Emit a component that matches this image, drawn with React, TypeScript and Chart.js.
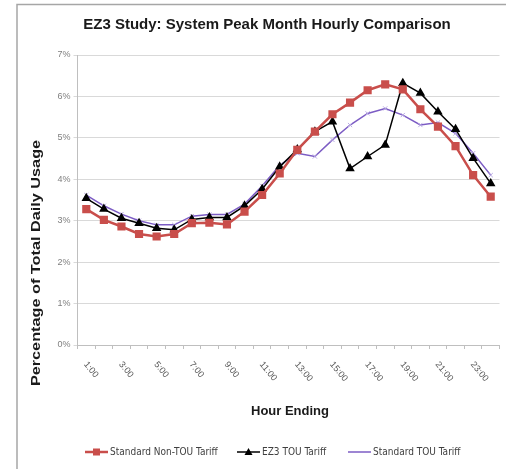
import React, { useEffect, useRef } from "react";
import { Chart, registerables } from "chart.js";

Chart.register(...registerables);

const hours = ["1:00","2:00","3:00","4:00","5:00","6:00","7:00","8:00","9:00","10:00","11:00","12:00","13:00","14:00","15:00","16:00","17:00","18:00","19:00","20:00","21:00","22:00","23:00","24:00"];
const yTicks = [0, 1, 2, 3, 4, 5, 6, 7];

const standardNonTou = [3.28,3.02,2.86,2.68,2.62,2.68,2.94,2.95,2.91,3.22,3.62,4.14,4.71,5.15,5.57,5.85,6.15,6.29,6.17,5.69,5.27,4.80,4.10,3.58];
const ez3Tou = [3.54,3.28,3.06,2.94,2.82,2.78,3.03,3.08,3.08,3.36,3.76,4.30,4.72,5.15,5.39,4.26,4.55,4.83,6.32,6.08,5.63,5.21,4.51,3.90];
const standardTou = [3.62,3.36,3.16,3.00,2.90,2.90,3.11,3.15,3.15,3.40,3.84,4.34,4.63,4.55,4.95,5.31,5.59,5.71,5.55,5.31,5.37,5.11,4.63,4.10];

const seriesNames = ["Standard Non-TOU Tariff", "EZ3 TOU Tariff", "Standard TOU Tariff"];
const seriesColors = ["#c94e4b", "#000000", "#7c5cc4"];

const W = 506;
const H = 469;

const decorPlugin = {
  id: "decor",
  afterDraw(chart: any) {
    const ctx = chart.ctx as CanvasRenderingContext2D;
    const xs = chart.scales.x;
    ctx.save();
    // frame
    ctx.strokeStyle = "#a6a6a6";
    ctx.lineWidth = 1.5;
    ctx.beginPath();
    ctx.moveTo(17, H);
    ctx.lineTo(17, 4.5);
    ctx.lineTo(W, 4.5);
    ctx.stroke();

    // title
    ctx.fillStyle = "#1a1a1a";
    ctx.font = "bold 15px 'Liberation Sans', Arial, sans-serif";
    ctx.textAlign = "center";
    ctx.textBaseline = "middle";
    ctx.fillText("EZ3 Study: System Peak Month Hourly Comparison", 267, 25);

    // y title
    ctx.save();
    ctx.translate(36, 263);
    ctx.rotate(-Math.PI / 2);
    ctx.scale(1.25, 1);
    ctx.font = "bold 13px 'Liberation Sans', Arial, sans-serif";
    ctx.fillText("Percentage of Total Daily Usage", 0, 0);
    ctx.restore();

    // x title
    ctx.font = "bold 13px 'Liberation Sans', Arial, sans-serif";
    ctx.fillText("Hour Ending", 290, 411);

    // rotated x tick labels
    ctx.fillStyle = "#595959";
    ctx.font = "9px 'Liberation Sans', Arial, sans-serif";
    ctx.textAlign = "left";
    ctx.textBaseline = "middle";
    for (let i = 0; i < hours.length; i += 2) {
      const x = xs.getPixelForValue(i);
      ctx.save();
      ctx.translate(x - 1, 363);
      ctx.rotate((50 * Math.PI) / 180);
      ctx.fillText(hours[i], 0, 0);
      ctx.restore();
    }

    // legend
    const ly = 452;
    const items = [
      { x: 85, style: "rect" },
      { x: 237, style: "triangle" },
      { x: 348, style: "cross" },
    ];
    ctx.font = "10px 'Liberation Sans Narrow', 'DejaVu Sans Condensed', Arial, sans-serif";
    items.forEach((it, k) => {
      ctx.strokeStyle = seriesColors[k];
      ctx.fillStyle = seriesColors[k];
      ctx.lineWidth = k === 0 ? 2.5 : 1.5;
      ctx.beginPath();
      ctx.moveTo(it.x, ly);
      ctx.lineTo(it.x + 23, ly);
      ctx.stroke();
      const cx = it.x + 11.5;
      if (it.style === "rect") {
        ctx.fillRect(cx - 3.5, ly - 3.5, 7, 7);
      } else if (it.style === "triangle") {
        ctx.beginPath();
        ctx.moveTo(cx, ly - 4);
        ctx.lineTo(cx + 4, ly + 3);
        ctx.lineTo(cx - 4, ly + 3);
        ctx.closePath();
        ctx.fill();
      }
      ctx.fillStyle = "#404040";
      ctx.textAlign = "left";
      ctx.fillText(seriesNames[k], it.x + 25, ly + 0.5);
    });
    ctx.restore();
  },
};

export default function App() {
  const ref = useRef<HTMLCanvasElement>(null);
  useEffect(() => {
    if (!ref.current) return;
    const chart = new Chart(ref.current, {
      type: "line",
      data: {
        labels: hours,
        datasets: [
          {
            label: seriesNames[0],
            data: standardNonTou,
            borderColor: seriesColors[0],
            backgroundColor: seriesColors[0],
            borderWidth: 2.5,
            pointStyle: "rect",
            pointRadius: 4,
            tension: 0,
          },
          {
            label: seriesNames[1],
            data: ez3Tou,
            borderColor: seriesColors[1],
            backgroundColor: seriesColors[1],
            borderWidth: 1.5,
            pointStyle: "triangle",
            pointRadius: 4,
            tension: 0,
          },
          {
            label: seriesNames[2],
            data: standardTou,
            borderColor: seriesColors[2],
            backgroundColor: "#b9aae3",
            pointBorderColor: "#b9aae3",
            borderWidth: 1.5,
            pointStyle: "crossRot",
            pointRadius: 3,
            pointBorderWidth: 1,
            tension: 0,
          },
        ],
      },
      options: {
        animation: false,
        responsive: false,
        devicePixelRatio: 1,
        layout: { padding: { left: 0, top: 55, right: 1, bottom: 0 } },
        plugins: {
          legend: { display: false },
          title: { display: false },
          tooltip: { enabled: false },
        },
        scales: {
          x: {
            type: "category",
            offset: true,
            afterFit: (s: any) => { s.height = H - 345; },
            ticks: { display: false },
            grid: {
              display: true,
              drawOnChartArea: false,
              drawTicks: true,
              tickLength: 4,
              color: "#bfbfbf",
              offset: true,
            },
            border: { display: true, color: "#bfbfbf", width: 1 },
          },
          y: {
            min: 0,
            max: 7,
            afterFit: (s: any) => { s.width = 77.5; },
            afterBuildTicks: (s: any) => { s.ticks = yTicks.map((v) => ({ value: v })); },
            ticks: {
              callback: (v: any) => v + "%",
              color: "#7f7f7f",
              font: { size: 9, family: "'Liberation Sans', Arial, sans-serif" },
              padding: 3,
            },
            grid: { color: "#d9d9d9", tickLength: 4, lineWidth: 1 },
            border: { display: true, color: "#bfbfbf" },
          },
        },
      },
      plugins: [decorPlugin],
    });
    return () => chart.destroy();
  }, []);
  return (
    <div style={{ position: "fixed", left: 0, top: 0, width: W, height: H, background: "#fff" }}>
      <canvas ref={ref} width={W} height={H} style={{ width: W, height: H, display: "block" }} />
    </div>
  );
}
